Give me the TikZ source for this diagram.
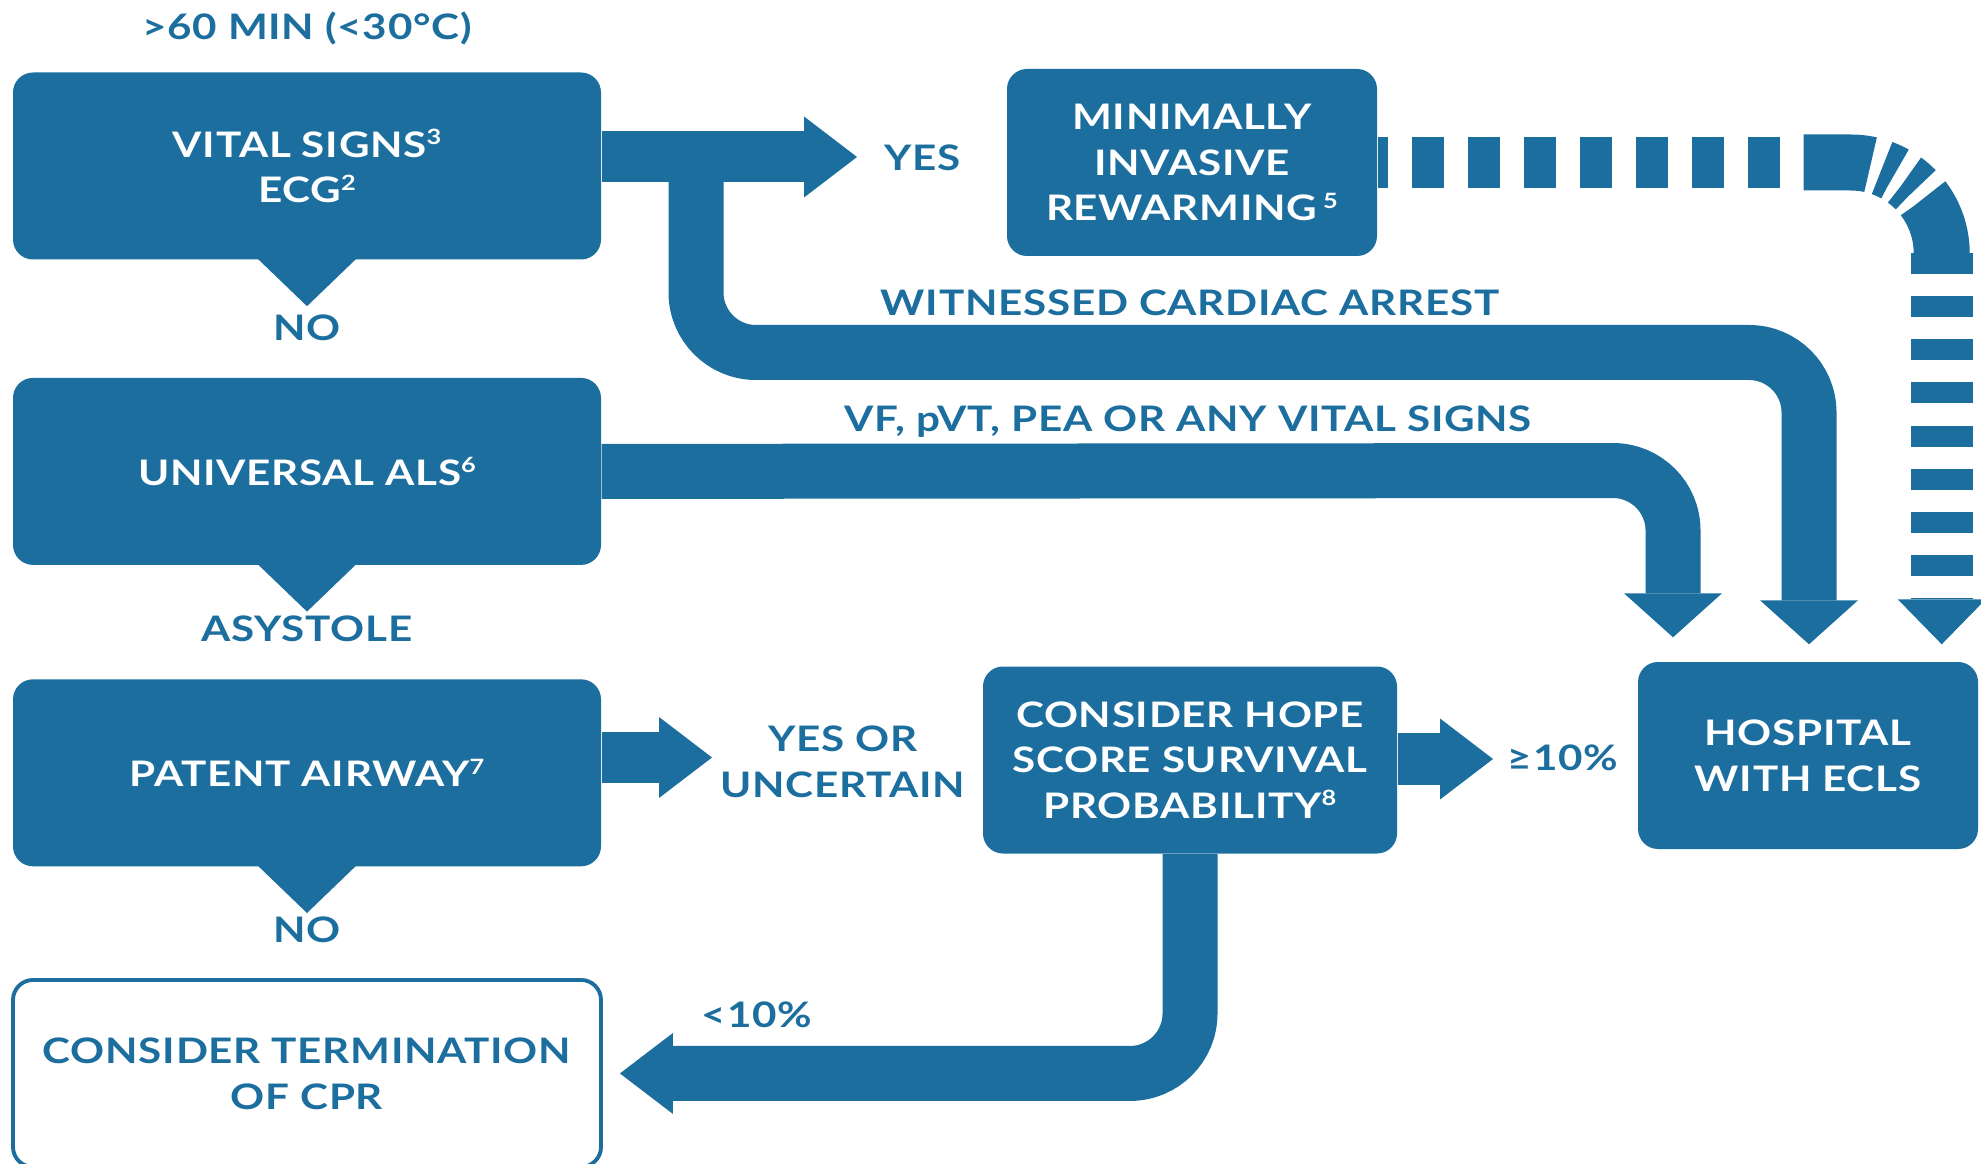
\documentclass[tikz,border=0pt]{standalone}
\usepackage{fontspec}
\setmainfont{Lato}[FakeStretch=1.2, LetterSpace=2]
\usetikzlibrary{positioning, arrows.meta, calc}
\definecolor{ercblue}{RGB}{27,110,158}
\newcommand{\fnref}[1]{\raisebox{0.36em}{\fontsize{6}{6}\selectfont #1}}

\begin{document}
\begin{tikzpicture}[-,auto,font=\fontsize{10}{13}\selectfont\bfseries]
        \tikzstyle{box}=[fill=ercblue, rounded corners=0.2cm, text=white, align=center, minimum height=1.87cm, inner sep=0pt]
        \tikzstyle{endbox}=[box, fill=white, draw=ercblue, line width=1.1pt, text=ercblue]
        \tikzstyle{tag}=[text=ercblue, align=center, inner sep=1pt]
        \tikzstyle{fat}=[draw=ercblue, line width=0.55cm, rounded corners=0.6cm]
        \tikzstyle{dashband}=[draw=ercblue]
        \tikzstyle{headh}=[-{Triangle[length=0.53cm, width=0.81cm, line width=0pt]}]
        \tikzstyle{headv}=[-{Triangle[length=0.44cm, width=0.98cm, line width=0pt]}]
        \useasboundingbox (0,0) rectangle (19.81,-11.64);
        \node[box, minimum width=5.88cm]    (vital)  at (3.07,-1.66)        {VITAL SIGNS\fnref{3}\\ECG\fnref{2}};
        \node[box, minimum width=5.88cm]    (als)    [below=1.17cm of vital] {UNIVERSAL ALS\fnref{6}};
        \node[box, minimum width=5.88cm]    (airway) [below=1.13cm of als]   {PATENT AIRWAY\fnref{7}};
        \node[endbox, minimum width=5.88cm] (term)   [below=1.11cm of airway] {CONSIDER TERMINATION\\OF CPR};
        \node[box, minimum width=3.70cm]    (rewarm) at (11.92,-1.625)      {MINIMALLY\\INVASIVE\\REWARMING\,\fnref{5}};
        \node[box, minimum width=4.14cm]    (hope)   at (11.90,-7.60)       {CONSIDER HOPE\\SCORE SURVIVAL\\PROBABILITY\fnref{8}};
        \node[box, minimum width=3.40cm]    (hosp)   at (18.08,-7.555)      {HOSPITAL\\WITH ECLS};
        \node[tag] (cold)  at (3.07,-0.28)   {>60 MIN (<30°C)};
        \node[tag] (no1)   at (3.07,-3.28)   {NO};
        \node[tag] (asys)  at (3.07,-6.29)   {ASYSTOLE};
        \node[tag] (no2)   at (3.07,-9.30)   {NO};
        \node[tag] (yes)   at (9.23,-1.58)   {YES};
        \node[tag] (wca)   at (11.90,-3.03)  {WITNESSED CARDIAC ARREST};
        \node[tag] (vf)    at (11.88,-4.22)  {VF, pVT, PEA OR ANY VITAL SIGNS};
        \node[tag] (unc)   at (8.43,-7.615)  {YES OR\\UNCERTAIN};
        \node[tag] (ge10)  at (15.63,-7.58)  {≥10\%};
        \node[tag] (lt10)  at (7.57,-10.15)  {<10\%};
        \foreach \b in {vital, als, airway}
            \fill[ercblue] ($(\b.south)+(-0.53,0.05)$) -- ($(\b.south)+(0.53,0.05)$) -- ($(\b.south)+(0,-0.46)$) -- cycle;
        \coordinate (yesTip) at (8.57,-1.57);
        \coordinate (wcFork) at (6.96,-1.57);
        \coordinate (wcBend) at (18.09,-3.525);
        \coordinate (vfBend) at (16.73,-4.705);
        \coordinate (auTip)  at (7.12,-7.575);
        \coordinate (hgTip)  at (14.93,-7.59);
        \draw[fat, headh, line width=0.51cm] (vital.east |- yesTip) -- (yesTip);
        \draw[fat, headv, shorten >=0.17cm] (wcFork) |- (wcBend) -- (wcBend |- hosp.north);
        \draw[fat, headv, shorten >=0.24cm] (als.east) -- (vfBend) -- (vfBend |- hosp.north);
        \draw[fat, headh, line width=0.51cm] (airway.east |- auTip) -- (auTip);
        \draw[fat, headh, line width=0.52cm] (hope.east |- hgTip) -- (hgTip);
        \draw[fat, headh, shorten >=0.17cm] (hope.south) |- (term.east);
        \draw[dashband, line width=0.51cm, dash pattern=on 0.32cm off 0.24cm, dash phase=0.22cm] (rewarm.east) -- ++(4.26,0) coordinate (mirA);
        \draw[dashband, line width=0.56cm, dash pattern=on 0.67cm off 0.12cm on 0.14cm off 0.12cm on 0.14cm off 0.12cm on 0.6cm off 0.1cm] (mirA) -- ++(0.47,0) arc[start angle=90, end angle=0, radius=0.91cm] coordinate (mirB);
        \draw[dashband, -{Triangle[length=0.45cm, width=0.88cm, line width=0pt]}, line width=0.62cm, dash pattern=on 0.21cm off 0.22cm, shorten >=0.17cm] (mirB) -- (mirB |- hosp.north);
    \end{tikzpicture}
\end{document}
